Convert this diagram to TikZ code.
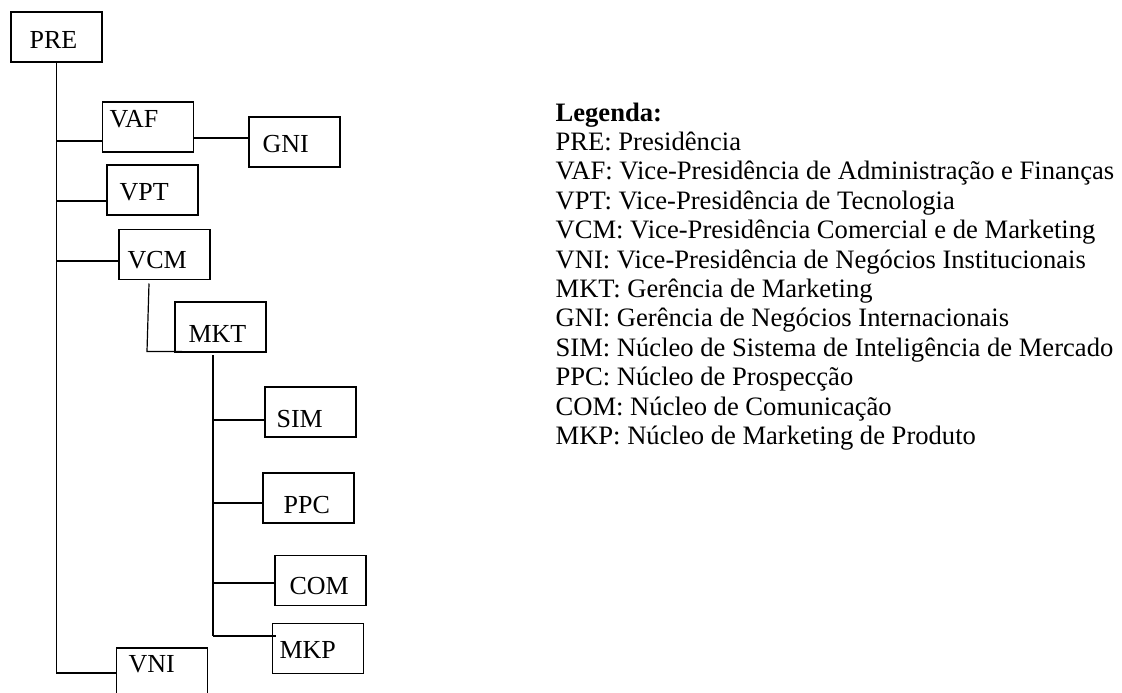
\documentclass[tikz,border=0pt]{standalone}
\usepackage{fontspec}
\setmainfont{Liberation Serif}
\usepackage{tikz}
\usetikzlibrary{positioning}
\usepackage{xcolor}

\begin{document}
\begin{tikzpicture}[x=1pt, y=-1pt, line width=1.2pt,
	unitbox/.style={draw=black, minimum width=91pt, minimum height=50pt, inner sep=0pt, outer sep=0pt},
	unitname/.style={anchor=base west, inner sep=0pt, font=\fontsize{26pt}{30pt}\selectfont},
	legendtext/.style={anchor=north west, inner sep=0pt, align=left, font=\fontsize{26.6pt}{29.4pt}\selectfont}]
				\useasboundingbox (0,0) rectangle (1122,693);
				% caixas
				\node[unitbox] (pre) at (56.5,37) {};
				\node[unitbox] (vaf) at (148,127) {};
				\node[unitbox] (gni) at (294.5,142) {};
				\node[unitbox] (vpt) at (152.5,190) {};
				\node[unitbox] (vcm) at (164.5,254.5) {};
				\node[unitbox] (mkt) at (220.5,327) {};
				\node[unitbox] (sim) at (310.5,412) {};
				\node[unitbox] (ppc) at (308.5,498) {};
				\node[unitbox] (com) at (320.5,580.5) {};
				\node[unitbox] (mkp) at (318,648.5) {};
				\node[unitbox] (vni) at (162,673) {};
				% siglas
				\node[unitname] (pre-t) at (29,49) {PRE};
				\node[unitname] (vaf-t) at (109,127) {VAF};
				\node[unitname] (gni-t) at (262,152) {GNI};
				\node[unitname] (vpt-t) at (119,200) {VPT};
				\node[unitname] (vcm-t) at (127,268) {VCM};
				\node[unitname] (mkt-t) at (188,342) {MKT};
				\node[unitname] (sim-t) at (276,427) {SIM};
				\node[unitname] (ppc-t) at (283,513) {PPC};
				\node[unitname] (com-t) at (289,594) {COM};
				\node[unitname] (mkp-t) at (279,658) {MKP};
				\node[unitname] (vni-t) at (128,672) {VNI};
				% ligacoes da presidencia
				\draw[black] (pre.south) -- (pre.south |- vni.west) -- (vni.west);
				\draw[black] (vaf.west) ++(0,14) coordinate (r1) -- (r1 -| pre.south);
				\draw[black] (vpt.west) ++(0,11) coordinate (r2) -- (r2 -| pre.south);
				\draw[black] (vcm.west) ++(0,6.5) coordinate (r3) -- (r3 -| pre.south);
				\draw[black] (vaf.east) ++(0,11) coordinate (r4) -- (r4 -| gni.west);
				% vcm -> mkt
				\draw[black] (vcm.south) ++(-15.5,4) coordinate (m0) -- ++(-2,68) coordinate (m1) -- ++(35,0);
				% nucleos do mkt
				\draw[black] (sim.west) ++(0,8) coordinate (s1) -- (s1 -| 213,0);
				\draw[black] (ppc.west) ++(0,5) coordinate (s2) -- (s2 -| 213,0);
				\draw[black] (com.west) ++(0,2.5) coordinate (s3) -- (s3 -| 213,0);
				\draw[black] (mkp.west) ++(3,-12.5) coordinate (s4) -- (s4 -| 213,0);
				\draw[black] (mkt.south) ++(-7.5,3) coordinate (k0) -- (k0 |- s4);
				% legenda
				\node[legendtext] (legenda) at (555,102) {\textbf{Legenda:}\\
					PRE: Presidência\\
					VAF: Vice-Presidência de Administração e Finanças\\
					VPT: Vice-Presidência de Tecnologia\\
					VCM: Vice-Presidência Comercial e de Marketing\\
					VNI: Vice-Presidência de Negócios Institucionais\\
					MKT: Gerência de Marketing\\
					GNI: Gerência de Negócios Internacionais\\
					SIM: Núcleo de Sistema de Inteligência de Mercado\\
					PPC: Núcleo de Prospecção\\
					COM: Núcleo de Comunicação\\
					MKP: Núcleo de Marketing de Produto};
\end{tikzpicture}
\end{document}
